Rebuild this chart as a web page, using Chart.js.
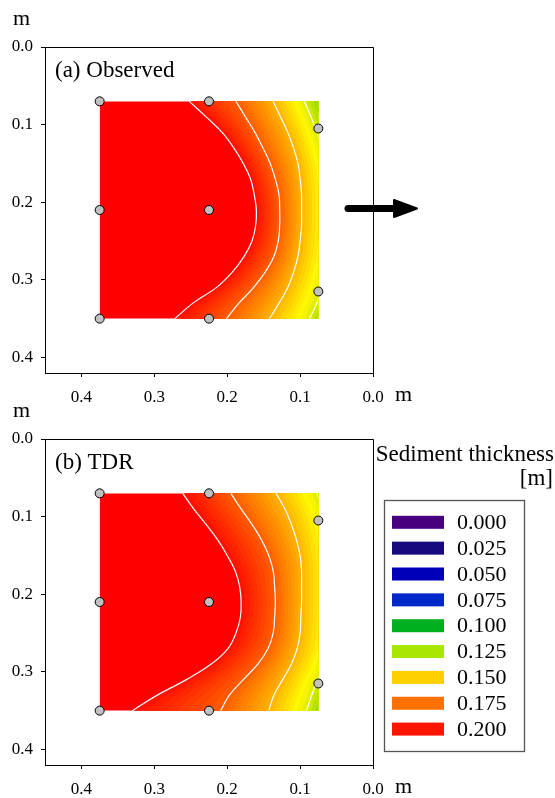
<!DOCTYPE html>
<html>
<head>
<meta charset="utf-8">
<script src="https://cdn.jsdelivr.net/npm/chart.js@4.4.1/dist/chart.umd.min.js"></script>
<style>
  body { margin: 0; background: #fff; }
  #wrap { position: relative; width: 555px; height: 798px; }
  canvas { position: absolute; left: 0; }
</style>
</head>
<body>
<div id="wrap">
  <canvas id="obsChart" width="555" height="410" style="top:0"></canvas>
  <canvas id="tdrChart" width="555" height="398" style="top:400px"></canvas>
</div>
<script>
// depth levels (m) at which the contour lines were read
const yLevels = [0.07, 0.09, 0.11, 0.13, 0.15, 0.17, 0.19, 0.21, 0.23, 0.25, 0.27, 0.29, 0.31, 0.33, 0.35];

// (a) Observed: x position (m) of each contour line at yLevels
const obsC1 = [0.252, 0.229, 0.207, 0.191, 0.178, 0.168, 0.163, 0.160, 0.161, 0.166, 0.177, 0.193, 0.215, 0.247, 0.272];
const obsC2 = [0.188, 0.175, 0.162, 0.151, 0.141, 0.134, 0.129, 0.128, 0.128, 0.130, 0.136, 0.148, 0.164, 0.184, 0.201];
const obsC3 = [0.137, 0.127, 0.117, 0.109, 0.103, 0.100, 0.098, 0.098, 0.098, 0.100, 0.103, 0.109, 0.117, 0.129, 0.142];
const obsC4 = [0.094, 0.085, 0.077, 0.070, 0.065, 0.062, 0.060, 0.060, 0.060, 0.060, 0.062, 0.066, 0.071, 0.077, 0.087];

// (b) TDR
const tdrC1 = [0.261, 0.246, 0.229, 0.213, 0.200, 0.189, 0.183, 0.181, 0.182, 0.188, 0.199, 0.222, 0.256, 0.296, 0.330];
const tdrC2 = [0.195, 0.181, 0.166, 0.153, 0.143, 0.137, 0.135, 0.134, 0.135, 0.137, 0.144, 0.158, 0.178, 0.197, 0.209];
const tdrC3 = [0.133, 0.121, 0.112, 0.105, 0.100, 0.098, 0.098, 0.098, 0.099, 0.100, 0.104, 0.112, 0.124, 0.136, 0.143];
const tdrC4 = [0.077, 0.068, 0.062, 0.058, 0.056, 0.055, 0.055, 0.055, 0.055, 0.056, 0.058, 0.066, 0.076, 0.084, 0.091];

// sensor positions
const sensorX = [0.375, 0.225, 0.075, 0.375, 0.225, 0.375, 0.225, 0.075];
const sensorY = [0.07, 0.07, 0.105, 0.21, 0.21, 0.35, 0.35, 0.315];

// extent of the measured field
const fieldX = [0.375, 0.075];
const fieldY = [0.07, 0.35];

const xTicks = [0.4, 0.3, 0.2, 0.1, 0.0];
const yTicks = [0.0, 0.1, 0.2, 0.3, 0.4];

const legendLevels = ['0.000', '0.025', '0.050', '0.075', '0.100', '0.125', '0.150', '0.175', '0.200'];
const legendColors = ['#48007f', '#170a80', '#0000b8', '#0028c8', '#00b020', '#a8e800', '#ffd000', '#ff7000', '#ff1400'];

// hue of the fill at each contour line (red -> orange -> yellow -> green)
const bandHues = [3, 22, 42, 66, 86];

const SERIF = '"Liberation Serif", "Times New Roman", serif';
Chart.defaults.font.family = SERIF;
Chart.defaults.color = '#000';

function shade(h) {
    let r, g;
    if (h <= 60) {
        r = 255;
        g = Math.min(248, 255 * h / 60);
    } else {
        r = 255 * (1 - (h - 60) / 42);
        g = 245 - (h - 60) * 1.6;
    }
    return 'rgb(' + Math.round(r) + ',' + Math.round(g) + ',0)';
}

function smoothPath(ctx, pts) {
    ctx.moveTo(pts[0][0], pts[0][1]);
    for (let i = 1; i < pts.length - 1; i++) {
        const mx = (pts[i][0] + pts[i + 1][0]) / 2;
        const my = (pts[i][1] + pts[i + 1][1]) / 2;
        ctx.quadraticCurveTo(pts[i][0], pts[i][1], mx, my);
    }
    const last = pts[pts.length - 1];
    ctx.lineTo(last[0], last[1]);
}

// fill everything on the right side of a curve x(y)
function fillRightOf(chart, xs, color) {
    const { ctx, scales: { x, y } } = chart;
    const pts = xs.map((v, i) => [x.getPixelForValue(v), y.getPixelForValue(yLevels[i])]);
    pts.unshift([pts[0][0], pts[0][1] - 3]);
    pts.push([pts[pts.length - 1][0], pts[pts.length - 1][1] + 3]);
    const xr = x.getPixelForValue(0);
    ctx.beginPath();
    smoothPath(ctx, pts);
    ctx.lineTo(xr, pts[pts.length - 1][1]);
    ctx.lineTo(xr, pts[0][1]);
    ctx.closePath();
    ctx.fillStyle = color;
    ctx.fill();
}

function clipField(chart) {
    const { ctx, scales: { x, y } } = chart;
    const l = x.getPixelForValue(fieldX[0]), r = x.getPixelForValue(fieldX[1]);
    const t = y.getPixelForValue(fieldY[0]), b = y.getPixelForValue(fieldY[1]);
    ctx.beginPath();
    ctx.rect(l, t, r - l, b - t);
    ctx.clip();
    return { l, r, t, b };
}

function makeShading(contours) {
    return {
        id: 'shading',
        beforeDatasetsDraw(chart) {
            const ctx = chart.ctx;
            ctx.save();
            const box = clipField(chart);
            ctx.fillStyle = '#ff0000';
            ctx.fillRect(box.l, box.t, box.r - box.l, box.b - box.t);
            const steps = 8;
            for (let i = 0; i < contours.length - 1; i++) {
                const a = contours[i], b = contours[i + 1];
                for (let k = 0; k < steps; k++) {
                    const t = k / steps;
                    const xs = a.map((v, j) => v + (b[j] - v) * t);
                    const h = bandHues[i] + (bandHues[i + 1] - bandHues[i]) * (k + 0.5) / steps;
                    fillRightOf(chart, xs, shade(h));
                }
            }
            const lastC = contours[contours.length - 1];
            for (let j = 0; j < 5; j++) {
                const xs = lastC.map(v => v - j * 0.006);
                const h = bandHues[3] + (bandHues[4] - bandHues[3]) * (j + 0.5) / 5;
                fillRightOf(chart, xs, shade(h));
            }
            ctx.restore();
        },
        beforeDatasetDraw(chart, args) {
            if (chart.data.datasets[args.index].clipToField) {
                chart.ctx.save();
                clipField(chart);
            }
        },
        afterDatasetDraw(chart, args) {
            if (chart.data.datasets[args.index].clipToField) {
                chart.ctx.restore();
            }
        }
    };
}

function makeDecor(label, extra) {
    return {
        id: 'decor',
        afterDraw(chart) {
            const { ctx, chartArea: a } = chart;
            ctx.save();
            ctx.strokeStyle = '#000';
            ctx.lineWidth = 1;
            ctx.beginPath();
            ctx.moveTo(Math.round(a.left) + 0.5, Math.round(a.top) + 0.5);
            ctx.lineTo(Math.round(a.right) + 0.5, Math.round(a.top) + 0.5);
            ctx.lineTo(Math.round(a.right) + 0.5, Math.round(a.bottom) + 0.5);
            ctx.stroke();

            ctx.fillStyle = '#000';
            ctx.textBaseline = 'alphabetic';
            ctx.textAlign = 'left';
            ctx.font = '23px ' + SERIF;
            ctx.fillText(label, a.left + 10, a.top + 30);
            ctx.font = '22px ' + SERIF;
            ctx.fillText('m', 13, a.top - 22);
            ctx.fillText('m', a.right + 22, a.bottom + 28);
            if (extra) extra(ctx, a);
            ctx.restore();
        }
    };
}

function drawArrow(ctx, a) {
    const yc = 208.5;
    ctx.lineWidth = 7;
    ctx.lineCap = 'round';
    ctx.beginPath();
    ctx.moveTo(a.right - 25, yc);
    ctx.lineTo(a.right + 24, yc);
    ctx.stroke();
    ctx.lineJoin = 'round';
    ctx.lineWidth = 2;
    ctx.beginPath();
    ctx.moveTo(a.right + 21, yc - 8.5);
    ctx.lineTo(a.right + 44, yc);
    ctx.lineTo(a.right + 21, yc + 8.5);
    ctx.closePath();
    ctx.fill();
    ctx.stroke();
}

function drawLegend(ctx, a) {
    ctx.font = '23px ' + SERIF;
    ctx.textAlign = 'right';
    ctx.fillText('Sediment thickness', 554, 61);
    ctx.fillText('[m]', 553, 85);
    ctx.strokeStyle = '#555';
    ctx.lineWidth = 1.3;
    ctx.strokeRect(384.5, 100.5, 140, 251);
    ctx.font = '22px ' + SERIF;
    ctx.textAlign = 'left';
    ctx.textBaseline = 'middle';
    legendLevels.forEach((lv, i) => {
        const yc = 122.3 + i * 25.85;
        ctx.fillStyle = legendColors[i];
        ctx.fillRect(392, yc - 6.5, 52, 13);
        ctx.fillStyle = '#000';
        ctx.fillText(lv, 457, yc + 1);
    });
}

function contourSet(xs, clip) {
    return {
        type: 'scatter',
        showLine: true,
        data: xs.map((v, i) => ({ x: v, y: yLevels[i] })),
        borderColor: '#ffffff',
        borderWidth: 1.2,
        pointRadius: 0,
        tension: 0.4,
        clipToField: clip
    };
}

function createPanel(id, label, contours, padTop, xAxisHeight, extra) {
    const ctx = document.getElementById(id).getContext('2d');
    const axisGrid = {
        drawOnChartArea: false,
        drawTicks: true,
        tickLength: 4,
        color: '#000',
        tickColor: '#000'
    };
    new Chart(ctx, {
        type: 'scatter',
        data: {
            datasets: [
                {
                    data: sensorX.map((v, i) => ({ x: v, y: sensorY[i] })),
                    backgroundColor: '#c0c0c0',
                    borderColor: '#000',
                    borderWidth: 1,
                    pointRadius: 4.5
                },
                contourSet(contours[0], false),
                contourSet(contours[1], false),
                contourSet(contours[2], false),
                contourSet(contours[3], true)
            ]
        },
        options: {
            responsive: false,
            animation: false,
            devicePixelRatio: 1,
            layout: { padding: { top: padTop, right: 182, left: 0, bottom: 0 } },
            plugins: {
                legend: { display: false },
                tooltip: { enabled: false }
            },
            scales: {
                x: {
                    type: 'linear',
                    min: 0,
                    max: 0.45,
                    reverse: true,
                    afterBuildTicks: s => { s.ticks = xTicks.map(v => ({ value: v })); },
                    afterFit: s => { s.height = xAxisHeight; },
                    ticks: {
                        callback: v => v.toFixed(1),
                        font: { size: 17, family: SERIF },
                        padding: 10,
                        maxRotation: 0,
                        autoSkip: false
                    },
                    grid: axisGrid,
                    border: { display: true, color: '#000', width: 1 }
                },
                y: {
                    type: 'linear',
                    min: 0,
                    max: 0.42,
                    reverse: true,
                    afterBuildTicks: s => { s.ticks = yTicks.map(v => ({ value: v })); },
                    afterFit: s => { s.width = 45; },
                    ticks: {
                        callback: v => v.toFixed(1),
                        font: { size: 17, family: SERIF },
                        padding: 8,
                        autoSkip: false
                    },
                    grid: axisGrid,
                    border: { display: true, color: '#000', width: 1 }
                }
            }
        },
        plugins: [makeShading(contours), makeDecor(label, extra)]
    });
}

createPanel('obsChart', '(a) Observed', [obsC1, obsC2, obsC3, obsC4], 47, 37, drawArrow);
createPanel('tdrChart', '(b) TDR', [tdrC1, tdrC2, tdrC3, tdrC4], 39, 33, drawLegend);
</script>
</body>
</html>
